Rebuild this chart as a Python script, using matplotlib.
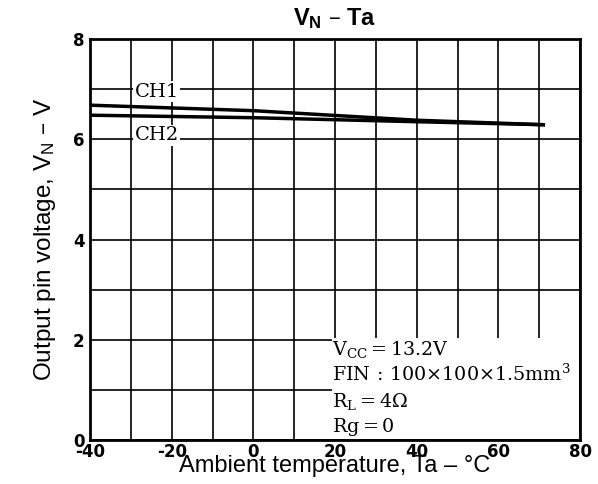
import matplotlib
matplotlib.use("Agg")
import matplotlib.pyplot as plt
from matplotlib.patches import Rectangle

# Data
ta_ch1 = [-40, 0, 40, 71]
vn_ch1 = [6.68, 6.57, 6.38, 6.29]
ta_ch2 = [-40, 0, 40, 71]
vn_ch2 = [6.48, 6.43, 6.35, 6.29]
xticks = [-40, -20, 0, 20, 40, 60, 80]
yticks = [0, 2, 4, 6, 8]
cond_lines = [r"$\mathregular{V_{CC} = 13.2V}$",
              r"$\mathregular{FIN\,:\,100{\times}100{\times}1.5mm^3}$",
              r"$\mathregular{R_L = 4\Omega}$",
              r"$\mathregular{Rg = 0}$"]

plt.rcParams['font.family'] = ['Liberation Sans', 'DejaVu Sans']
plt.rcParams['mathtext.fontset'] = 'dejavuserif'
fig = plt.figure(figsize=(5.98, 4.84), dpi=100)
ax = fig.add_axes([0.1505, 0.0909, 0.8195, 0.8285])
ax.set_xlim(-40, 80)
ax.set_ylim(0, 8)
ax.set_xticks(range(-40, 81, 10))
ax.set_yticks(range(0, 9))
ax.grid(True, color='black', linewidth=1.2, zorder=0)
tickfont = dict(family=['DejaVu Sans'], fontweight='bold', fontsize=12)
ax.set_xticklabels([str(v) if v in xticks else '' for v in range(-40, 81, 10)], **tickfont)
ax.set_yticklabels([str(v) if v in yticks else '' for v in range(0, 9)], **tickfont)
ax.tick_params(axis='x', length=0, pad=2)
ax.tick_params(axis='y', length=0, pad=4)
for s in ax.spines.values():
    s.set_linewidth(2)

ax.plot(ta_ch1, vn_ch1, color='black', linewidth=2.5, zorder=3)
ax.plot(ta_ch2, vn_ch2, color='black', linewidth=2.5, zorder=3)

serif = ['DejaVu Serif']
ax.text(-23.7, 6.95, 'CH1', family=serif, fontsize=14, ha='center', va='center',
        bbox=dict(facecolor='white', edgecolor='none', pad=1), zorder=4)
ax.text(-23.7, 6.08, 'CH2', family=serif, fontsize=14, ha='center', va='center',
        bbox=dict(facecolor='white', edgecolor='none', pad=1), zorder=4)

ax.add_patch(Rectangle((19.3, 0.02), 80 - 19.3 - 0.2, 2.01, facecolor='white',
                       edgecolor='none', zorder=2))
ys = [1.70, 1.18, 0.65, 0.15]
for t, y in zip(cond_lines, ys):
    ax.text(19.3, y, t, family=serif, fontsize=13.8, ha='left', va='baseline', zorder=5)

ax.set_xlabel('Ambient temperature, Ta – °C', fontsize=17, labelpad=-4.5)
ax.set_ylabel(r'Output pin voltage, V$_\mathregular{N}$ – V', fontsize=17.5, labelpad=11)
ax.set_title(r'V$_\mathregular{N}$ – Ta', fontweight='bold', fontsize=17, pad=10)

fig.savefig('out.png', dpi=100)
